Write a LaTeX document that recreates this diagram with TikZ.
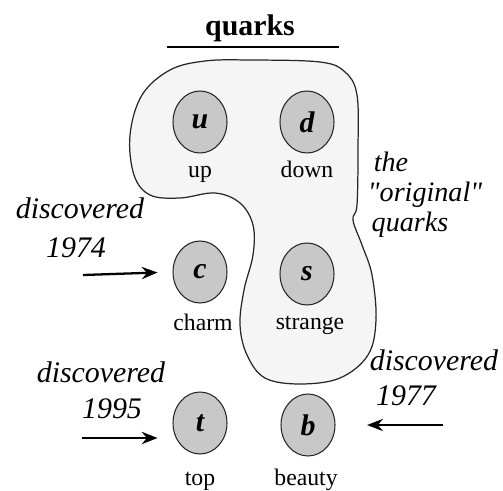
\documentclass[tikz,border=0pt]{standalone}
\usepackage{fontspec}
\setmainfont{Liberation Serif}[Ligatures=TeXOff]
\usetikzlibrary{shapes.geometric,arrows.meta}
\definecolor{qgray}{HTML}{C8C8C8}
\definecolor{blobfill}{HTML}{F5F5F5}
\begin{document}
\begin{tikzpicture}[x=0.02cm,y=-0.02cm,
  quark/.style={ellipse, draw=black!85, line width=0.6pt, fill=qgray,
    minimum width=1.08cm, minimum height=1.24cm, inner sep=0pt,
    font=\fontsize{17}{17}\selectfont\bfseries\itshape},
  lbl/.style={anchor=base, inner sep=0pt, font=\fontsize{13.5}{14}\selectfont},
  note/.style={anchor=base, inner sep=0pt, font=\fontsize{17}{18}\selectfont\itshape},
  snote/.style={anchor=base, inner sep=0pt, font=\fontsize{16}{17}\selectfont\itshape},
  ttl/.style={anchor=base, inner sep=0pt, font=\fontsize{17}{18}\selectfont\bfseries},
  arr/.style={-{Stealth[length=9pt,width=7pt]}, line width=1.3pt},
  blob/.style={draw=black!85, line width=0.7pt, fill=blobfill}]
\useasboundingbox (0,0) rectangle (503,490);
% blob of original quarks
\draw[blob] plot[smooth cycle, tension=0.6] coordinates {
 (250,60) (320,62) (345,72) (357,95) (358,150) (357,205) (353,220)
 (362,245) (372,275) (376,320) (368,355) (340,378) (300,384) (265,378)
 (247,355) (240,325) (244,290) (253,255) (253,225) (240,203) (215,193)
 (180,198) (150,195) (134,175) (130,135) (142,95) (170,70) (205,61)};
% title
\node[ttl] (title) at (250,35) {quarks};
\coordinate (tl) at (167,47);
\coordinate (tr) at (339,47);
\draw[line width=1.2pt] (tl) -- (tr);
% quarks
\node[quark] (u) at (200,122) {u};
\node[quark] (d) at (307,122) {d};
\node[quark] (c) at (200,272) {c};
\node[quark] (s) at (307,274) {s};
\node[quark] (t) at (200,423) {t};
\node[quark] (b) at (308,425) {b};
% labels
\node[lbl] (lu) at (200,177) {up};
\node[lbl] (ld) at (307,177) {down};
\node[lbl] (lc) at (203,330) {charm};
\node[lbl] (ls) at (310,329) {strange};
\node[lbl] (lt) at (200,485) {top};
\node[lbl] (lb) at (306,485) {beauty};
% original quarks note
\node[snote] (n1) at (391,171) {the};
\node[snote] (n2) at (425,201) {"original"};
\node[snote] (n3) at (410,231) {quarks};
% discoveries
\node[note] (d74) at (80,218) {discovered};
\node[note] (y74) at (76,257) {1974};
\coordinate (a74) at (83,275);
\draw[arr, shorten >=8.5pt] (a74) -- (c.west);
\node[note] (d95) at (101,382) {discovered};
\node[note] (y95) at (112,418) {1995};
\coordinate (a95) at (82,438);
\draw[arr, shorten >=8.5pt] (a95) -- (t.west |- a95);
\node[note] (d77) at (434,370) {discovered};
\node[note] (y77) at (406,405) {1977};
\coordinate (a77) at (443,425);
\draw[arr, shorten >=18pt] (a77) -- (b.east);
\end{tikzpicture}
\end{document}
